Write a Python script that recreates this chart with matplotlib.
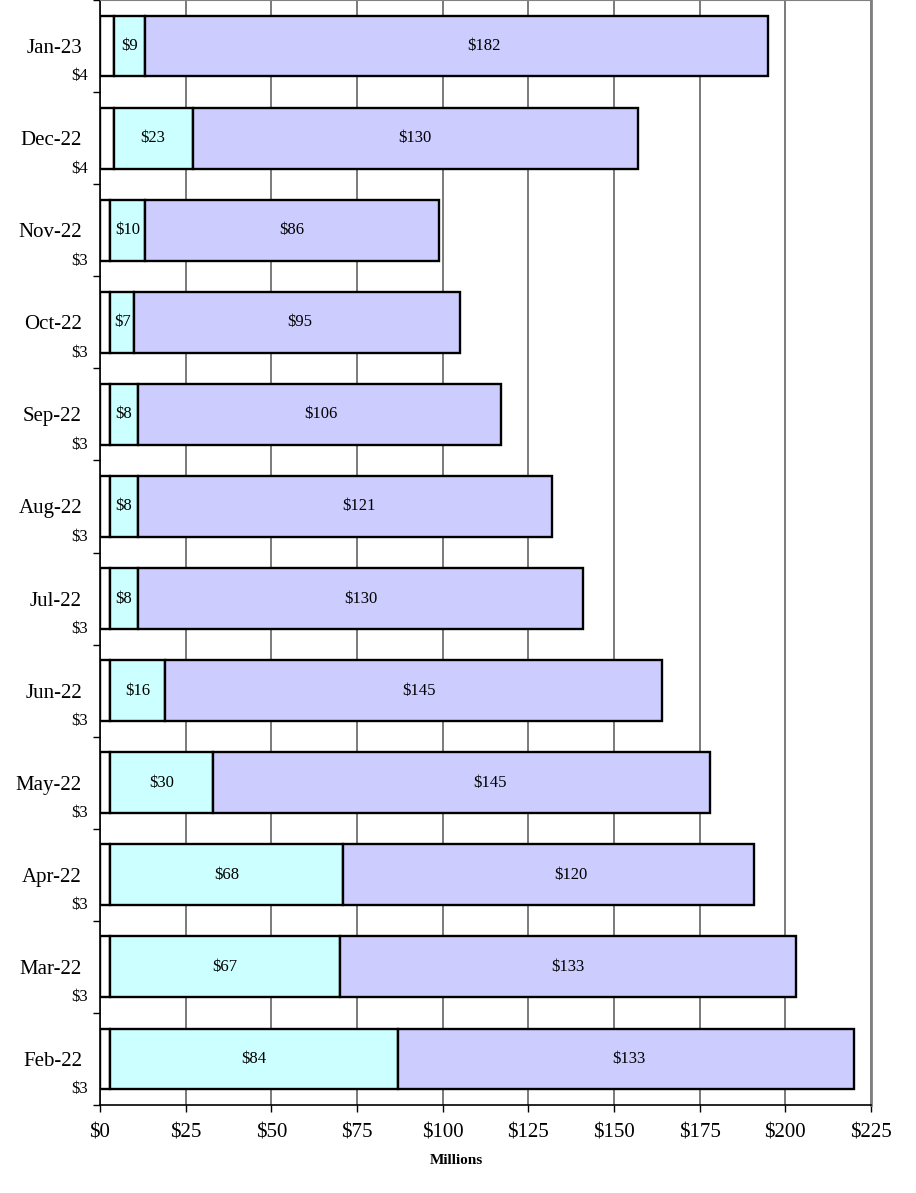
import matplotlib.pyplot as plt
import numpy as np

months = ["Feb-22", "Mar-22", "Apr-22", "May-22", "Jun-22", "Jul-22",
          "Aug-22", "Sep-22", "Oct-22", "Nov-22", "Dec-22", "Jan-23"]
base = [3, 3, 3, 3, 3, 3, 3, 3, 3, 3, 4, 4]
middle = [84, 67, 68, 30, 16, 8, 8, 8, 7, 10, 23, 9]
upper = [133, 133, 120, 145, 145, 130, 121, 106, 95, 86, 130, 182]

x_ticks = [0, 25, 50, 75, 100, 125, 150, 175, 200, 225]

# horizontal nudges (pixels) for the labels in the last segment
upper_nudge = [3, 0, 22, 28, 5, 0, 14, 2, 3, 0, 0, 28]

base = np.array(base)
middle = np.array(middle)
upper = np.array(upper)
ypos = np.arange(len(months))

plt.rcParams["font.family"] = ["Liberation Serif", "DejaVu Serif"]

fig = plt.figure(figsize=[9.16, 11.93], dpi=100)
ax = fig.add_axes([100 / 916, 88 / 1193, 771 / 916, 1105 / 1193])

h = 0.66
kw = dict(height=h, edgecolor="black", linewidth=1.7, zorder=3)
ax.barh(ypos, base, color="white", **kw)
ax.barh(ypos, middle, left=base, color="#CCFFFF", **kw)
ax.barh(ypos, upper, left=base + middle, color="#CCCCFF", **kw)

for i in range(len(months)):
    ax.text(base[i] + middle[i] / 2, ypos[i], "${}".format(middle[i]),
            ha="center", va="center", fontsize=12, zorder=4)
    ax.annotate("${}".format(upper[i]),
                xy=(base[i] + middle[i] + upper[i] / 2, ypos[i]),
                xytext=(upper_nudge[i], 0), textcoords="offset pixels",
                ha="center", va="center", fontsize=12, zorder=4)
    # base value sits left of the axis, under the month name
    ax.annotate("${}".format(base[i]), xy=(0, ypos[i] - 0.33),
                xytext=(-20, 0), textcoords="offset pixels",
                ha="center", va="center", fontsize=12, annotation_clip=False)

ax.set_xlim(0, 225)
ax.set_ylim(-0.5, len(months) - 0.5)
ax.set_xticks(x_ticks)
ax.set_xticklabels(["${}".format(v) for v in x_ticks], fontsize=15)
ax.set_yticks(ypos)
ax.set_yticklabels(months, fontsize=15)
ax.set_yticks(np.arange(-0.5, len(months), 1.0), minor=True)
ax.tick_params(axis="y", which="major", length=0, pad=13)
ax.tick_params(axis="y", which="minor", length=5, width=1, direction="out")
ax.tick_params(axis="x", length=5, width=1, direction="out", pad=8)

ax.xaxis.grid(True, color="#707070", linewidth=1.3, zorder=0)
ax.set_axisbelow(True)
ax.spines["left"].set_color("black")
ax.spines["bottom"].set_color("black")
ax.spines["left"].set_linewidth(1.2)
ax.spines["bottom"].set_linewidth(1.2)
ax.spines["right"].set_color("#808080")
ax.spines["right"].set_linewidth(2)
ax.spines["top"].set_color("#808080")

fig.text(456 / 916, 1 - 1160 / 1193, "Millions", ha="center", va="center",
         fontsize=11, fontweight="bold")

fig.savefig("out.png")
